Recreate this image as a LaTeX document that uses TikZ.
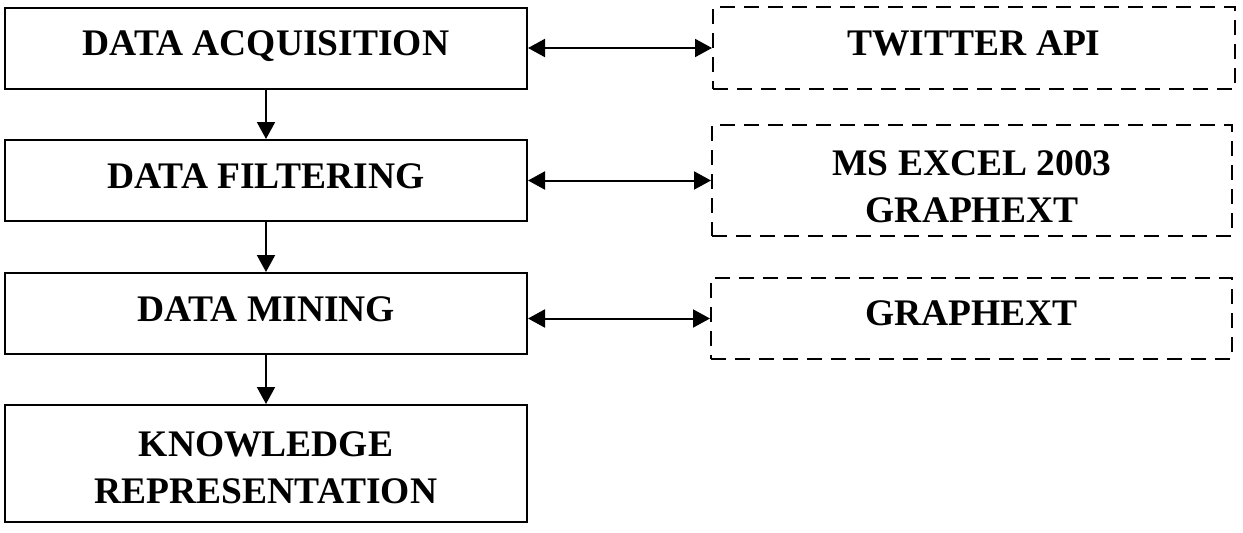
\documentclass[tikz,border=0pt]{standalone}
\usepackage{fontspec}
\setmainfont{Liberation Serif}
\usetikzlibrary{arrows.meta,calc}
\begin{document}
\begin{tikzpicture}[x=1pt,y=-1pt,
  every node/.style={font=\fontsize{37.5}{47}\selectfont\bfseries, align=center, inner sep=0pt},
  lbl/.style={anchor=base},
  solidbox/.style={draw, line width=2pt, minimum width=522pt},
  dashbox/.style={draw, line width=2pt, dash pattern=on 15pt off 9pt},
  flow/.style={line width=2pt, -{Triangle[length=17pt,width=18pt]}},
  link/.style={line width=2pt, {Triangle[length=17pt,width=18pt]}-{Triangle[length=17pt,width=18pt]}}]
\useasboundingbox (0,0) rectangle (1243,533);
\node[solidbox, minimum height=81pt] (b1) at (266,48) {};
\node[solidbox, minimum height=81pt] (b2) at (266,180.5) {};
\node[solidbox, minimum height=81pt] (b3) at (266,313.5) {};
\node[solidbox, minimum height=117pt] (b4) at (266,463.5) {};
\node[dashbox, minimum width=522pt, minimum height=82pt] (r1) at (974,48) {};
\node[dashbox, minimum width=520pt, minimum height=111pt] (r2) at (972,180.5) {};
\node[dashbox, minimum width=521pt, minimum height=81pt] (r3) at (971.5,318.5) {};
\node[lbl] (t1) at (266,55) {DATA ACQUISITION};
\node[lbl] (t2) at (266,188) {DATA FILTERING};
\node[lbl] (t3) at (266,321) {DATA MINING};
\node[lbl] (t4) at (266,503) {KNOWLEDGE\\REPRESENTATION};
\node[lbl] (s1) at (974,55) {TWITTER API};
\node[lbl] (s2) at (972,222) {MS EXCEL 2003\\GRAPHEXT};
\node[lbl] (s3) at (971.5,325) {GRAPHEXT};
\draw[flow] (b1) -- (b2);
\draw[flow] (b2) -- (b3);
\draw[flow] (b3) -- (b4);
\draw[link] (b1.east |- r1.west) -- (r1.west);
\draw[link] (b2.east |- r2.west) -- (r2.west);
\draw[link] (b3.east |- r3.west) -- (r3.west);
\end{tikzpicture}
\end{document}
